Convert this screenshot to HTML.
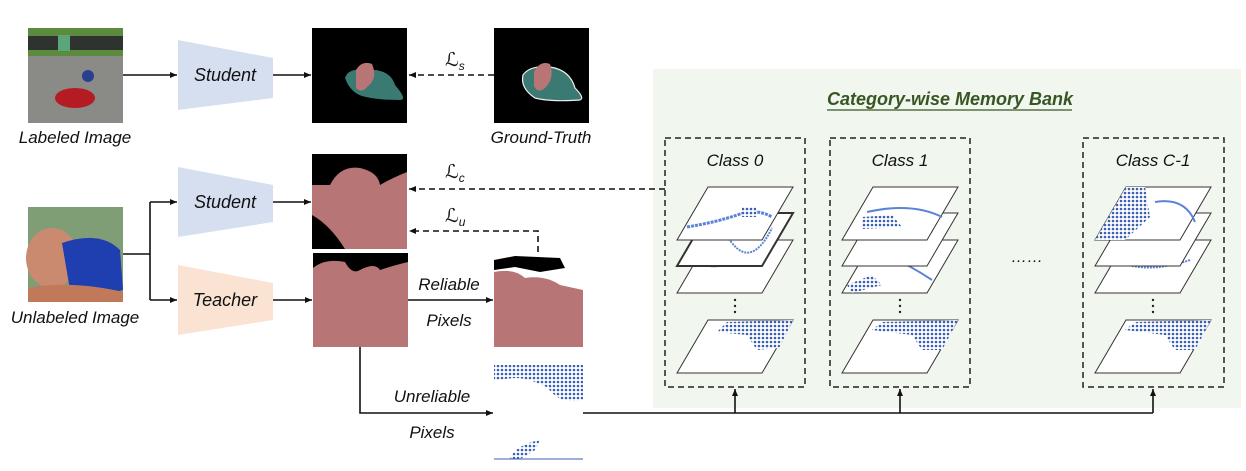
<!DOCTYPE html>
<html><head><meta charset="utf-8"><style>
html,body{margin:0;padding:0;background:#fff;}
svg{display:block;}
text{font-family:"Liberation Sans","DejaVu Sans",sans-serif;font-style:italic;fill:#111;}
</style></head><body>
<svg width="1246" height="471" viewBox="0 0 1246 471" xmlns="http://www.w3.org/2000/svg">
<defs>
<marker id="ah" markerWidth="8" markerHeight="8" refX="7" refY="4" orient="auto" markerUnits="userSpaceOnUse"><path d="M0,1 L7,4 L0,7 z" fill="#111"/></marker>
<pattern id="hat" width="4" height="4" patternUnits="userSpaceOnUse"><rect width="4" height="4" fill="#fff"/><circle cx="2" cy="2" r="1.3" fill="#3b5fb0"/></pattern>
<g id="layer"><path d="M31,0 L116,0 L85,53 L0,53 Z" fill="#fff" stroke="#333" stroke-width="1"/></g>
</defs>

<rect x="653" y="69" width="588" height="339" fill="#f1f6ee"/>
<text x="950" y="105" text-anchor="middle" font-size="18" font-weight="bold" style="fill:#375623">Category-wise Memory Bank</text>
<line x1="827" y1="110" x2="1072" y2="110" stroke="#375623" stroke-width="1.3"/>

<g fill="none" stroke="#222" stroke-width="1.5" stroke-dasharray="6,4">
<rect x="665" y="138" width="140" height="249"/>
<rect x="830" y="138" width="140" height="249"/>
<rect x="1083" y="138" width="141" height="249"/>
</g>
<text x="735" y="166" text-anchor="middle" font-size="17">Class 0</text>
<text x="900" y="166" text-anchor="middle" font-size="17">Class 1</text>
<text x="1153" y="166" text-anchor="middle" font-size="17">Class C-1</text>
<text x="1027" y="262" text-anchor="middle" font-size="16">……</text>

<g>
<g transform="translate(677,240)"><use href="#layer"/><path d="M20,20 Q40,35 60,15 T85,20" stroke="#5b84d6" fill="none" stroke-width="2" stroke-dasharray="2,1"/></g>
<g transform="translate(677,213)"><use href="#layer"/><path d="M31,0 L116,0 L85,53 L0,53 Z" fill="none" stroke="#333" stroke-width="2"/><path d="M15,25 Q35,5 55,30 T95,15" stroke="#5b84d6" fill="none" stroke-width="2" stroke-dasharray="2,1"/></g>
<g transform="translate(677,187)"><use href="#layer"/><path d="M10,40 Q40,35 60,28 T95,30" stroke="#5b84d6" fill="none" stroke-width="3" stroke-dasharray="3,1"/><rect x="65" y="20" width="14" height="10" fill="url(#hat)"/></g>
<g transform="translate(677,320)"><use href="#layer"/><path d="M50,2 L116,0 L102,28 L80,30 L70,15 L40,12 Z" fill="url(#hat)"/></g>

<g transform="translate(842,240)"><use href="#layer"/><path d="M5,45 L30,35 L40,45 L10,53 Z" fill="url(#hat)"/><path d="M30,10 Q60,20 90,40" stroke="#5b84d6" fill="none" stroke-width="2"/></g>
<g transform="translate(842,213)"><use href="#layer"/><path d="M30,10 L95,8 L90,20 L40,20 Z" fill="url(#hat)"/></g>
<g transform="translate(842,187)"><use href="#layer"/><path d="M20,30 L50,28 L60,40 L20,42 Z" fill="url(#hat)"/><path d="M25,25 Q70,15 100,30" stroke="#5b84d6" fill="none" stroke-width="2"/></g>
<g transform="translate(842,320)"><use href="#layer"/><path d="M40,2 L116,0 L100,30 L80,30 L70,15 L30,10 Z" fill="url(#hat)"/></g>

<g transform="translate(1095,240)"><use href="#layer"/><path d="M20,20 Q50,35 95,20" stroke="#5b84d6" fill="none" stroke-width="2" stroke-dasharray="2,1"/></g>
<g transform="translate(1095,213)"><use href="#layer"/><path d="M40,5 L90,5 L80,20 L40,20 Z" fill="url(#hat)"/></g>
<g transform="translate(1095,187)"><use href="#layer"/><path d="M31,0 L50,0 L55,30 L30,53 L0,53 Z" fill="url(#hat)"/><path d="M60,15 Q90,10 100,35" stroke="#5b84d6" fill="none" stroke-width="2"/></g>
<g transform="translate(1095,320)"><use href="#layer"/><path d="M40,2 L116,0 L100,30 L80,30 L70,15 L30,10 Z" fill="url(#hat)"/></g>
</g>
<g fill="#222"><circle cx="735" cy="300" r="1.2"/><circle cx="735" cy="306" r="1.2"/><circle cx="735" cy="312" r="1.2"/>
<circle cx="900" cy="300" r="1.2"/><circle cx="900" cy="306" r="1.2"/><circle cx="900" cy="312" r="1.2"/>
<circle cx="1153" cy="300" r="1.2"/><circle cx="1153" cy="306" r="1.2"/><circle cx="1153" cy="312" r="1.2"/></g>

<rect x="28" y="28" width="95" height="95" fill="#8a8a86"/>
<rect x="28" y="28" width="95" height="28" fill="#5c8a3e"/>
<rect x="28" y="36" width="95" height="14" fill="#2e3330"/>
<rect x="58" y="35" width="12" height="16" fill="#5aa57a"/>
<ellipse cx="75" cy="98" rx="20" ry="10" fill="#b51b22"/>
<circle cx="88" cy="76" r="6" fill="#2a3f8e"/>
<text x="75" y="143" text-anchor="middle" font-size="17">Labeled Image</text>

<rect x="28" y="207" width="95" height="95" fill="#7f9e76"/>
<ellipse cx="52" cy="258" rx="26" ry="30" fill="#c98a70"/>
<path d="M62,243 Q100,230 120,250 L123,290 Q90,300 70,290 Z" fill="#1f3fb0"/>
<path d="M28,288 Q70,280 123,292 L123,302 L28,302 Z" fill="#c07a5a"/>
<text x="75" y="323" text-anchor="middle" font-size="17">Unlabeled Image</text>

<path d="M178,40 L273,58 L273,98 L178,110 Z" fill="#d5dff0"/>
<path d="M178,167 L273,185 L273,222 L178,237 Z" fill="#d5dff0"/>
<path d="M178,265 L273,283 L273,320 L178,335 Z" fill="#fae3d3"/>
<text x="225" y="81" text-anchor="middle" font-size="18">Student</text>
<text x="225" y="208" text-anchor="middle" font-size="18">Student</text>
<text x="225" y="306" text-anchor="middle" font-size="18">Teacher</text>

<rect x="312" y="28" width="95" height="95" fill="#000"/>
<path d="M345,78 Q348,68 365,70 Q390,68 395,85 Q408,100 400,100 Q375,100 362,96 Q350,92 345,78Z" fill="#3a7a73"/>
<path d="M356,70 Q362,60 372,64 Q378,78 368,86 Q362,94 356,88 Z" fill="#b87575"/>
<rect x="494" y="28" width="95" height="95" fill="#000"/>
<path d="M523,75 Q530,65 550,67 Q570,70 575,88 Q585,98 580,100 Q550,102 535,98 Q520,88 523,75Z" fill="#3a7a73" stroke="#eee" stroke-width="1.2"/>
<path d="M534,72 Q540,60 550,64 Q555,78 545,88 Q538,94 534,86 Z" fill="#b87575"/>

<rect x="312" y="154" width="95" height="95" fill="#000"/>
<path d="M312,185 L330,185 Q340,165 360,168 Q378,172 380,185 Q392,178 407,172 L407,249 L345,249 Q330,225 312,215 Z" fill="#b87575"/>
<rect x="313" y="253" width="95" height="94" fill="#000"/>
<path d="M313,268 Q325,258 345,262 Q352,275 360,270 Q375,262 380,270 Q395,265 408,262 L408,347 L313,347 Z" fill="#b87575"/>

<rect x="494" y="254" width="89" height="93" fill="#fff"/>
<path d="M494,260 L515,256 L560,258 L565,268 L540,272 L515,267 L494,270 Z" fill="#000"/>
<path d="M494,272 Q515,268 525,278 Q545,275 560,285 L583,290 L583,347 L500,347 L494,347 Z" fill="#b87575"/>

<rect x="494" y="365" width="89" height="94" fill="#fff"/>
<path d="M494,365 L583,365 L583,400 Q560,405 548,388 Q530,378 515,378 L494,380 Z" fill="url(#hat)"/>
<path d="M510,459 Q515,445 540,440 L535,450 L520,459 Z" fill="url(#hat)"/>
<line x1="494" y1="459" x2="583" y2="459" stroke="#3b5fb0" stroke-width="1"/>

<g stroke="#111" stroke-width="1.6" fill="none">
<line x1="123" y1="75" x2="177" y2="75" marker-end="url(#ah)"/>
<line x1="273" y1="75" x2="311" y2="75" marker-end="url(#ah)"/>
<polyline points="123,254 150,254"/>
<polyline points="150,202 150,300"/>
<line x1="150" y1="202" x2="177" y2="202" marker-end="url(#ah)"/>
<line x1="150" y1="300" x2="177" y2="300" marker-end="url(#ah)"/>
<line x1="273" y1="202" x2="311" y2="202" marker-end="url(#ah)"/>
<line x1="273" y1="300" x2="312" y2="300" marker-end="url(#ah)"/>
<line x1="408" y1="300" x2="493" y2="300" marker-end="url(#ah)"/>
<polyline points="360,347 360,413 493,413" marker-end="url(#ah)"/>
<polyline points="583,413 1153,413"/>
<line x1="735" y1="413" x2="735" y2="389" marker-end="url(#ah)"/>
<line x1="900" y1="413" x2="900" y2="389" marker-end="url(#ah)"/>
<line x1="1153" y1="413" x2="1153" y2="389" marker-end="url(#ah)"/>
</g>
<g stroke="#111" stroke-width="1.6" fill="none" stroke-dasharray="6,4">
<line x1="494" y1="75" x2="409" y2="75" marker-end="url(#ah)"/>
<line x1="665" y1="189" x2="409" y2="189" marker-end="url(#ah)"/>
<polyline points="538,252 538,231 409,231" marker-end="url(#ah)"/>
</g>

<text x="445" y="66" font-size="19" font-family="Liberation Serif">ℒ<tspan font-size="12" dy="4">s</tspan></text>
<text x="445" y="178" font-size="19" font-family="Liberation Serif">ℒ<tspan font-size="12" dy="4">c</tspan></text>
<text x="445" y="222" font-size="19" font-family="Liberation Serif">ℒ<tspan font-size="12" dy="4">u</tspan></text>
<text x="541" y="143" text-anchor="middle" font-size="17">Ground-Truth</text>
<text x="449" y="290" text-anchor="middle" font-size="17">Reliable</text>
<text x="449" y="326" text-anchor="middle" font-size="17">Pixels</text>
<text x="432" y="402" text-anchor="middle" font-size="17">Unreliable</text>
<text x="432" y="438" text-anchor="middle" font-size="17">Pixels</text>
</svg>
</body></html>
